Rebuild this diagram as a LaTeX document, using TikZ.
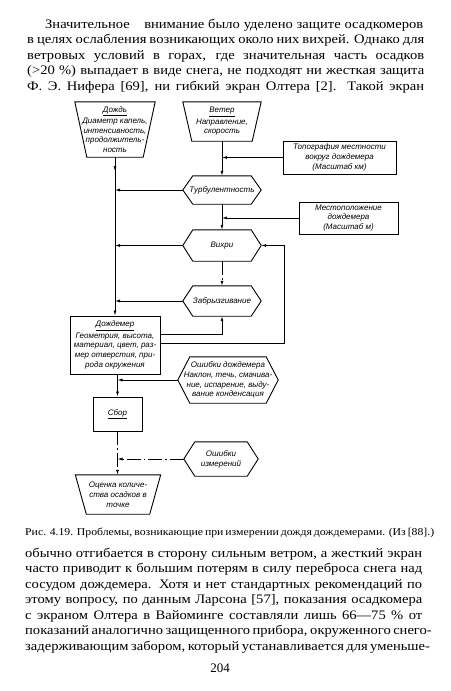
\documentclass[tikz,border=0pt]{standalone}
\usepackage{fontspec}
\setmainfont{Liberation Serif}
\newfontfamily\dfont{Liberation Sans}
\usetikzlibrary{arrows.meta,decorations.markings}
\newcommand\bodyf{\fontsize{13}{15.5}\selectfont}
\newcommand\capf{\fontsize{10.5}{12}\selectfont}
\newcommand\tln[5]{\node[anchor=base west,inner sep=0pt] (#1) at (#2,#3) {\bodyf\scalebox{1.12}[1]{\makebox[#4][s]{#5}}};}
\begin{document}
\begin{tikzpicture}[x=1pt,y=-1pt,
  dtext/.style={inner sep=0pt,font=\dfont\itshape\fontsize{8}{9.8}\selectfont,align=center},
  rbox/.style={dtext,draw,line width=0.9pt},
  shapeline/.style={line width=0.9pt,line join=miter},
  conn/.style={line width=0.8pt,-{Latex[length=5pt,width=3pt]}},
  dashdot/.style={dash pattern=on 14pt off 3pt on 1.5pt off 3pt},
  midarrow/.style={postaction={decorate,decoration={markings,mark=at position 14pt with {\arrow{Latex[length=5pt,width=3pt]}}}}}
]
\useasboundingbox (0,0) rectangle (450,691);
\fill[white] (0,0) rectangle (450,691);

% --- body text above
\tln{t1}{45}{28}{337.5pt}{Значительное\quad внимание было уделено защите осадкомеров}
\tln{t2}{27}{43.5}{354.5pt}{в целях ослабления возникающих около них вихрей. Однако для}
\tln{t3}{27}{59}{354.5pt}{ветровых условий в горах, где значительная часть осадков}
\tln{t4}{27}{74.5}{354.5pt}{(>20 \%) выпадает в виде снега, не подходят ни жесткая защита}
\tln{t5}{27}{90}{354.5pt}{Ф. Э. Нифера [69], ни гибкий экран Олтера [2]. Такой экран}

% --- diagram nodes
\node[dtext,minimum width=80pt,minimum height=55pt] (rain) at (115,129.5)
  {\underline{Дождь}\\[1.5pt]Диаметр капель,\\интенсивность,\\продолжитель-\\ность};
\node[dtext,minimum width=78pt,minimum height=39pt] (wind) at (222,121.5)
  {\underline{Ветер}\\[1.5pt]Направление,\\скорость};
\node[rbox,minimum width=113pt,minimum height=33pt] (topo) at (339.5,157.5)
  {Топография местности\\вокруг дождемера\\(Масштаб км)};
\node[dtext,minimum width=78pt,minimum height=28pt] (turb) at (222,190) {Турбулентность};
\node[rbox,minimum width=99pt,minimum height=32pt] (loc) at (348.5,218)
  {Местоположение\\дождемера\\(Масштаб м)};
\node[dtext,minimum width=78pt,minimum height=31pt] (vort) at (222,245.5) {Вихри};
\node[dtext,minimum width=78pt,minimum height=30pt] (splash) at (222,301) {Забрызгивание};
\node[rbox,minimum width=90pt,minimum height=58pt] (gauge) at (115,345)
  {\underline{Дождемер}\\[1.5pt]Геометрия, высота,\\материал, цвет, раз-\\мер отверстия, при-\\рода окружения};
\node[dtext,minimum width=100pt,minimum height=46pt] (gerr) at (228,380)
  {Ошибки дождемера\\Наклон, течь, смачива-\\ние, испарение, выду-\\вание конденсация};
\node[rbox,minimum width=49pt,minimum height=34pt] (sbor) at (117.5,414) {\underline{Сбор}};
\node[dtext,minimum width=74pt,minimum height=34pt] (merr) at (221,459) {Ошибки\\измерений};
\node[dtext,minimum width=85pt,minimum height=39pt] (est) at (118,494.5)
  {Оценка количе-\\ства осадков в\\точке};

% --- trapezia
\foreach \n/\d in {rain/12,wind/9,est/11}
  \draw[shapeline] (\n.north west) -- (\n.north east) -- ([xshift=-\d pt]\n.south east)
    -- ([xshift=\d pt]\n.south west) -- cycle;
% --- hexagons
\foreach \n/\d in {turb/10,vort/10,splash/10,gerr/12,merr/11}
  \draw[shapeline] (\n.west) -- ([xshift=\d pt]\n.north west) -- ([xshift=-\d pt]\n.north east)
    -- (\n.east) -- ([xshift=-\d pt]\n.south east) -- ([xshift=\d pt]\n.south west) -- cycle;

% --- connectors
\draw[conn,midarrow] (rain.south) -- (gauge.north);
\draw[conn] (turb.west) -- (turb.west -| rain.south);
\draw[conn] (vort.west) -- (vort.west -| rain.south);
\draw[conn] (splash.west) -- (splash.west -| rain.south);
\draw[conn] (wind.south) -- (turb.north);
\draw[conn] (topo.west) -- (topo.west -| wind.south);
\draw[conn] (turb.south) -- (vort.north);
\draw[conn] (loc.west) -- (loc.west -| turb.south);
\draw[conn,dashdot] (vort.south) -- (splash.north);
\draw[conn] ([yshift=11pt]gauge.east) -| (splash.south);
\draw[conn] ([yshift=2pt]gauge.east) -- ++(124,0) |- (vort.east);
\draw[conn] (gauge.south -| sbor.north) -- (sbor.north);
\draw[conn] (gerr.west) -- (gerr.west -| sbor.north);
\draw[conn,dashdot] (sbor.south) -- (sbor.south |- est.north);
\draw[conn,dashdot] (merr.west) -- (merr.west -| sbor.south);

% --- caption and text below
\node[anchor=base west,inner sep=0pt] (cap) at (25,535)
  {\capf\scalebox{1.12}[1]{\makebox[351pt][s]{Рис. 4.19. Проблемы, возникающие при измерении дождя дождемерами. (Из [88].)}}};
\tln{b1}{25}{557}{354.5pt}{обычно отгибается в сторону сильным ветром, а жесткий экран}
\tln{b2}{25}{572.5}{354.5pt}{часто приводит к большим потерям в силу переброса снега над}
\tln{b3}{25}{588}{354.5pt}{сосудом дождемера. Хотя и нет стандартных рекомендаций по}
\tln{b4}{25}{603.5}{354.5pt}{этому вопросу, по данным Ларсона [57], показания осадкомера}
\tln{b5}{25}{619}{354.5pt}{с экраном Олтера в Вайоминге составляли лишь 66—75 \% от}
\tln{b6}{25}{634.5}{354.5pt}{показаний аналогично защищенного прибора, окруженного снего-}
\tln{b7}{25}{650}{354.5pt}{задерживающим забором, который устанавливается для уменьше-}
\node[anchor=base,inner sep=0pt] (pg) at (220,672) {\bodyf 204};
\end{tikzpicture}
\end{document}
